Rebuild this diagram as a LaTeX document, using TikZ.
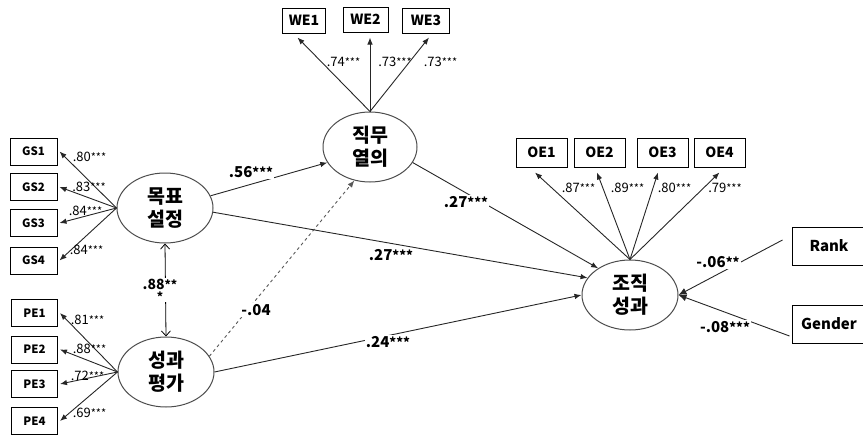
\documentclass[tikz,border=0pt]{standalone}
\usepackage{fontspec}
\setmainfont{Noto Sans CJK KR}
\usetikzlibrary{shapes.geometric,arrows.meta}
\newcommand\stars[2][11]{{\fontsize{#1}{#1}\selectfont #2}}
\begin{document}
\begin{tikzpicture}[x=1pt,y=-1pt,
  obs/.style={draw=black,line width=1pt,inner sep=0pt,minimum height=27pt,font=\fontsize{11.5}{12}\selectfont\bfseries},
  bigobs/.style={obs,font=\fontsize{14}{15}\selectfont\bfseries},
  lat/.style={ellipse,draw=black!70,line width=1pt,inner sep=0pt,minimum width=96pt,minimum height=70pt,align=center,font=\fontsize{19.5}{23}\selectfont\bfseries},
  ld/.style={inner sep=0.5pt,font=\fontsize{13}{14}\selectfont},
  pl/.style={inner sep=1pt,fill=white,font=\fontsize{15}{16}\selectfont\bfseries},
  con/.style={line width=0.9pt,draw=black!85},
  arr/.style={con,-{Latex[length=7pt,width=5.5pt]}},
  ctl/.style={con,-{Latex[length=8pt,width=7pt]}}
]
\useasboundingbox (0,0) rectangle (863,439);
% latent variables
\node[lat] (GSe) at (165,208) {목표\\설정};
\node[lat] (PEe) at (166,372) {성과\\평가};
\node[lat,minimum width=94pt] (WEe) at (370,147) {직무\\열의};
\node[lat] (OEe) at (630,295) {조직\\성과};
% observed variables
\node[obs,minimum width=47pt] (GS1) at (33.5,151.5) {GS1};
\node[obs,minimum width=47pt] (GS2) at (33.5,187) {GS2};
\node[obs,minimum width=47pt] (GS3) at (33.5,223) {GS3};
\node[obs,minimum width=47pt] (GS4) at (33.5,260.5) {GS4};
\node[obs,minimum width=46pt] (PE1) at (34.5,313) {PE1};
\node[obs,minimum width=46pt] (PE2) at (34.5,349.5) {PE2};
\node[obs,minimum width=46pt] (PE3) at (34.5,384) {PE3};
\node[obs,minimum width=46pt] (PE4) at (34.5,421) {PE4};
\node[bigobs,minimum width=43pt,minimum height=25pt] (WE1) at (304,20.5) {WE1};
\node[bigobs,minimum width=45pt,minimum height=25pt] (WE2) at (365.5,19.5) {WE2};
\node[bigobs,minimum width=47pt,minimum height=25pt] (WE3) at (426,20.5) {WE3};
\node[bigobs,minimum width=51pt,minimum height=29pt] (OE1) at (541.5,152.5) {OE1};
\node[bigobs,minimum width=51pt,minimum height=29pt] (OE2) at (599.5,152.5) {OE2};
\node[bigobs,minimum width=51pt,minimum height=29pt] (OE3) at (662.5,152.5) {OE3};
\node[bigobs,minimum width=51pt,minimum height=29pt] (OE4) at (719.5,152.5) {OE4};
\node[obs,minimum width=74pt,minimum height=38pt,font=\fontsize{15}{16}\selectfont\bfseries] (Rank) at (829,246) {Rank};
\node[obs,minimum width=74pt,minimum height=38pt,font=\fontsize{15}{16}\selectfont\bfseries] (Gender) at (829,324) {Gender};
% measurement arrows
\foreach \i in {1,2,3,4}{
  \draw[arr] (GSe.west) -- ([xshift=2pt]GS\i.east);
  \draw[arr] (PEe.west) -- ([xshift=2pt]PE\i.east);
}
\draw[arr] (WEe.north) -- ([xshift=-6.5pt,yshift=-4pt]WE1.south);
\draw[arr] (WEe.north) -- ([xshift=4.5pt,yshift=-5pt]WE2.south);
\draw[arr] (WEe.north) -- ([xshift=3pt,yshift=-4pt]WE3.south);
\draw[arr] (OEe.north) -- ([xshift=-6.5pt,yshift=-5pt]OE1.south);
\draw[arr] (OEe.north) -- ([xshift=-2.5pt,yshift=-5pt]OE2.south);
\draw[arr] (OEe.north) -- ([xshift=-4.5pt,yshift=-5pt]OE3.south);
\draw[arr] (OEe.north) -- ([xshift=0pt,yshift=-5pt]OE4.south);
% loadings
\node[ld] at (89.5,157) {.80\stars{***}};
\node[ld] at (89,187) {.83\stars{***}};
\node[ld] at (85.5,211) {.84\stars{***}};
\node[ld] at (86.5,250) {.84\stars{***}};
\node[ld] at (87.5,320) {.81\stars{***}};
\node[ld] at (89.5,349) {.88\stars{***}};
\node[ld] at (87.5,376) {.72\stars{***}};
\node[ld] at (89.5,413) {.69\stars{***}};
\node[ld] at (343.5,62) {.74\stars{***}};
\node[ld] at (395,62) {.73\stars{***}};
\node[ld] at (440.5,62) {.73\stars{***}};
\node[ld] at (578.5,188) {.87\stars{***}};
\node[ld] at (627.5,188) {.89\stars{***}};
\node[ld] at (674.5,188) {.80\stars{***}};
\node[ld] at (725,188) {.79\stars{***}};
% structural paths
\draw[{Straight Barb[length=5pt,width=9pt]}-{Straight Barb[length=5pt,width=9pt]},line width=0.8pt] (GSe.south) -- (PEe.north);
\node[pl,align=center,font=\fontsize{14}{15}\selectfont\bfseries] at (160,290) {.88\stars[12]{**}\\[-3pt]\stars[12]{*}};
\draw[arr] (GSe.15) -- (WEe.200);
\draw[arr,dashed,draw=black!65] (PEe.20) -- (WEe.245);
\draw[arr] (WEe.-20) -- (OEe.140);
\draw[arr] (GSe.-5) -- (OEe.158);
\draw[arr] (PEe.east) -- (OEe.west);
\draw[ctl] ([xshift=-9pt,yshift=6pt]Rank.west) -- (OEe.east);
\draw[ctl] ([xshift=-2pt,yshift=-12pt]Gender.west) -- (OEe.east);
\node[pl] at (251,172) {.56\stars[13]{***}};
\node[pl] at (466,202) {.27\stars[13]{***}};
\node[pl] at (391,255) {.27\stars[13]{***}};
\node[pl] at (388,342) {.24\stars[13]{***}};
\node[pl] at (256,310) {-.04};
\node[pl] at (718,262) {-.06\stars[13]{**}};
\node[pl] at (725,327) {-.08\stars[13]{***}};
\end{tikzpicture}
\end{document}
